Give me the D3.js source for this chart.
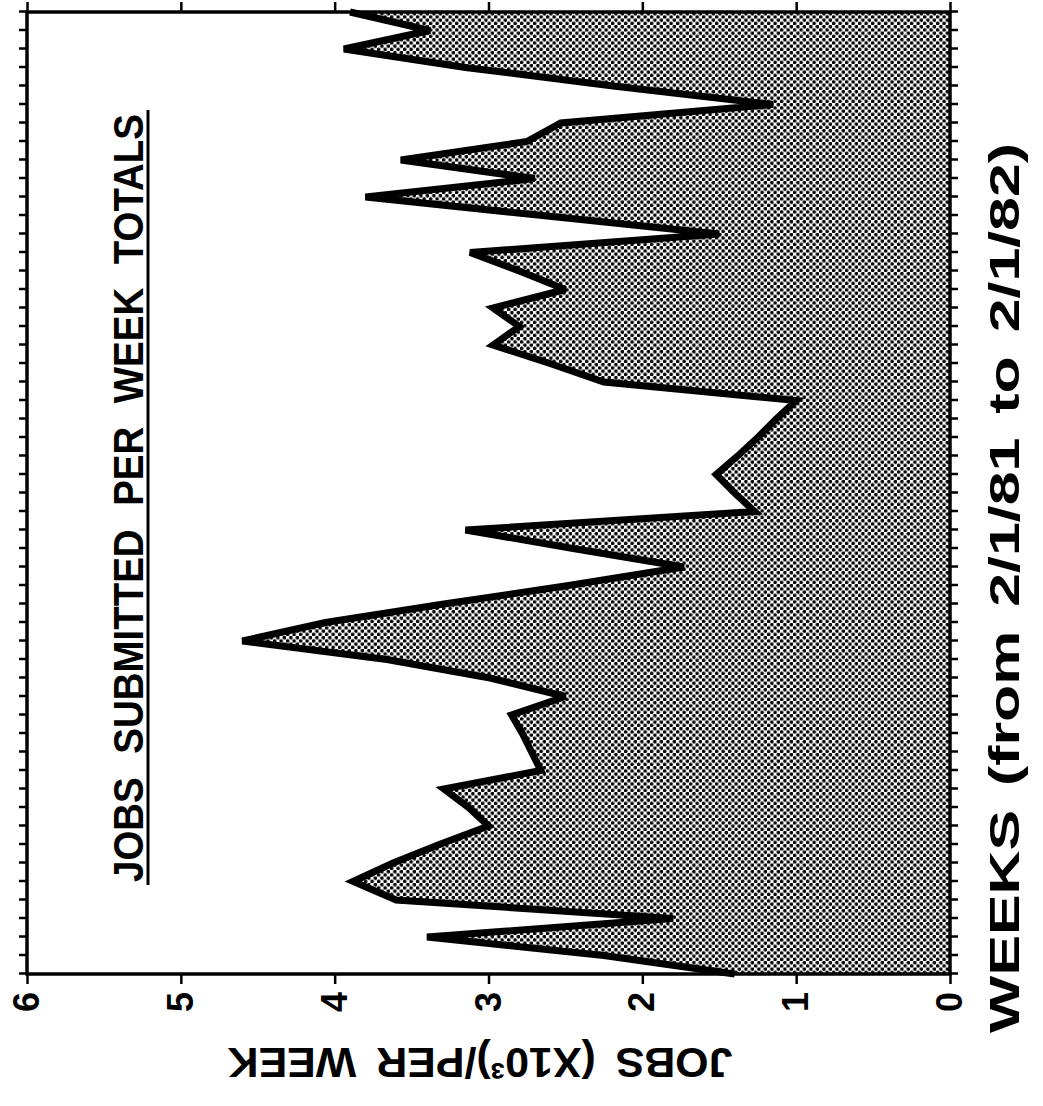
<!DOCTYPE html>
<html lang="en">
<head>
<meta charset="utf-8">
<title>Jobs Submitted Per Week Totals</title>
<script src="https://d3js.org/d3.v7.min.js"></script>
<style>
  body { margin: 0; background: #fff; }
  svg text {
    font-family: "Liberation Sans", Arial, sans-serif;
    font-weight: bold;
    fill: #000;
  }
</style>
</head>
<body>
<div id="chart"></div>
<script>
// jobs per week (x1000), week 0 = 2/1/81 ... week 52 = 2/1/82
const jobsPerWeek = [
  1.40, 2.25, 3.40, 1.80, 3.60, 3.88, 3.62, 3.32, 3.00, 3.13,
  3.29, 2.66, 2.72, 2.78, 2.85, 2.50, 2.99, 3.66, 4.60, 4.06,
  3.29, 2.48, 1.73, 2.45, 3.15, 1.27, 1.40, 1.52, 1.38, 1.25,
  1.13, 1.00, 2.25, 2.60, 2.97, 2.80, 2.97, 2.50, 2.80, 3.12,
  1.50, 2.65, 3.80, 2.70, 3.57, 2.75, 2.53, 1.15, 2.19, 3.15,
  3.94, 3.38, 3.90
];
const jobTicks = [0, 1, 2, 3, 4, 5, 6];
const chartTitle = "JOBS SUBMITTED PER WEEK TOTALS";
const weekLabel = "WEEKS (from 2/1/81 to 2/1/82)";
const jobLabel = "JOBS (X10³)/PER WEEK";

const width = 1043, height = 1106;

const svg = d3.select("#chart")
  .append("svg")
  .attr("width", width)
  .attr("height", height);

// halftone dots for the area under the line
const pat = svg.append("defs").append("pattern")
  .attr("id", "dots")
  .attr("patternUnits", "userSpaceOnUse")
  .attr("width", 6.5)
  .attr("height", 6.5);
pat.append("circle").attr("cx", 1.6).attr("cy", 1.6).attr("r", 1.8).attr("fill", "#000");
pat.append("circle").attr("cx", 4.85).attr("cy", 4.85).attr("r", 1.8).attr("fill", "#000");

// chart is drawn upright and then turned a quarter turn (like the scanned page)
const g = svg.append("g").attr("transform", "translate(0,1000) rotate(-90)");

const x = d3.scaleLinear().domain([0, jobsPerWeek.length - 1]).range([26, 988]);
const y = d3.scaleLinear().domain([0, 6]).range([950, 27]);

// area + line
const area = d3.area()
  .x((d, i) => x(i))
  .y0(y(0))
  .y1(d => y(d));

const line = d3.line()
  .x((d, i) => x(i))
  .y(d => y(d));

g.append("path")
  .datum(jobsPerWeek)
  .attr("d", area)
  .attr("fill", "url(#dots)");

g.append("path")
  .datum(jobsPerWeek)
  .attr("d", line)
  .attr("fill", "none")
  .attr("stroke", "#000")
  .attr("stroke-width", 7)
  .attr("stroke-linejoin", "miter")
  .attr("stroke-miterlimit", 3);

// week ticks, one per week
const weekTicks = jobsPerWeek.map((d, i) => i);

function styleAxis(sel) {
  sel.select(".domain").remove();
  sel.selectAll(".tick line").attr("stroke", "#000").attr("stroke-width", 2.5);
}

g.append("g")
  .attr("transform", `translate(0,${y(0)})`)
  .call(d3.axisBottom(x).tickValues(weekTicks).tickSize(8).tickFormat(""))
  .call(styleAxis);

g.append("g")
  .attr("transform", `translate(0,${y(6)})`)
  .call(d3.axisTop(x).tickValues(weekTicks).tickSize(8).tickFormat(""))
  .call(styleAxis);

g.append("g")
  .attr("transform", `translate(${x(0)},0)`)
  .call(d3.axisLeft(y).tickValues(jobTicks).tickSize(10).tickPadding(8).tickFormat(d3.format("d")))
  .call(styleAxis)
  .selectAll("text")
  .style("font-size", "36px");

g.append("g")
  .attr("transform", `translate(${x(52)},0)`)
  .call(d3.axisRight(y).tickValues(jobTicks).tickSize(10).tickFormat(""))
  .call(styleAxis);

// frame
g.append("rect")
  .attr("x", x(0))
  .attr("y", y(6))
  .attr("width", x(52) - x(0))
  .attr("height", y(0) - y(6))
  .attr("fill", "none")
  .attr("stroke", "#000")
  .attr("stroke-width", 3.5);

// title + underline
g.append("text")
  .attr("x", 502)
  .attr("y", 143)
  .attr("text-anchor", "middle")
  .attr("font-size", 42)
  .style("word-spacing", "14px")
  .attr("textLength", 768)
  .attr("lengthAdjust", "spacingAndGlyphs")
  .text(chartTitle);

g.append("line")
  .attr("x1", 115).attr("x2", 890)
  .attr("y1", 148).attr("y2", 148)
  .attr("stroke", "#000")
  .attr("stroke-width", 3);

// axis labels
g.append("text")
  .attr("x", 412)
  .attr("y", 1019)
  .attr("text-anchor", "middle")
  .attr("font-size", 43)
  .style("word-spacing", "5px")
  .attr("textLength", 890)
  .attr("lengthAdjust", "spacingAndGlyphs")
  .text(weekLabel);

g.append("text")
  .attr("transform", "translate(-48,480) rotate(-90)")
  .attr("text-anchor", "middle")
  .attr("font-size", 43)
  .style("word-spacing", "8px")
  .attr("textLength", 505)
  .attr("lengthAdjust", "spacingAndGlyphs")
  .text(jobLabel);
</script>
</body>
</html>
